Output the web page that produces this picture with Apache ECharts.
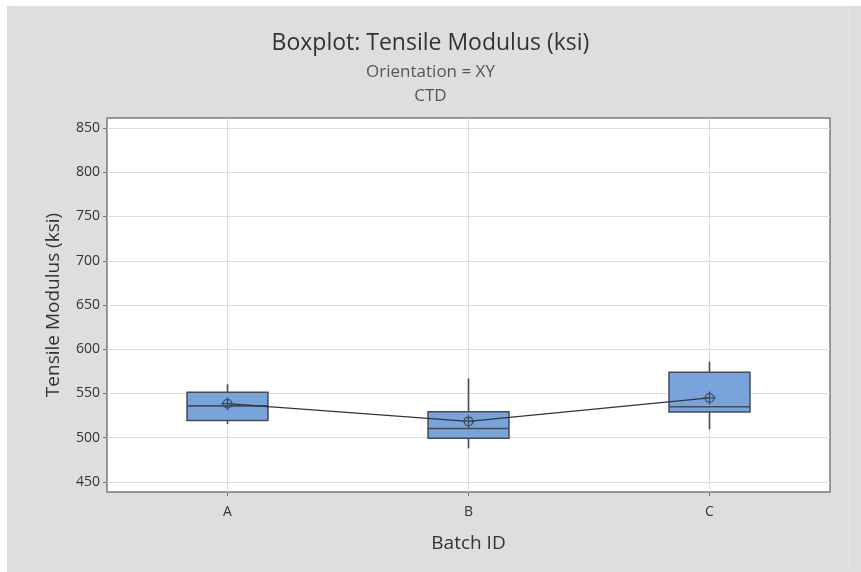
<!DOCTYPE html>
<html>
<head>
<meta charset="utf-8">
<script src="https://cdn.jsdelivr.net/npm/echarts@6/dist/echarts.min.js"></script>
<style>
  html, body { margin: 0; padding: 0; background: #ffffff; }
  #chart { width: 861px; height: 572px; }
</style>
</head>
<body>
<div id="chart"></div>
<script>
// Batch categories
const batches = ['A', 'B', 'C'];
// Five-number summaries per batch (ksi)
const whiskerLow  = [515.5, 488, 509.5];
const quartile1   = [519.5, 499.5, 529];
const medians     = [536, 510.5, 535];
const quartile3   = [551.5, 529.5, 574];
const whiskerHigh = [560.5, 567, 586];
// Batch means
const means = [538.5, 518.5, 545];
// Y axis tick values
const yTicks = [450, 500, 550, 600, 650, 700, 750, 800, 850];
// Extra room inside the frame above and below the outer ticks
const yPad = 11.3;

const FONT = '"Open Sans", "Noto Sans", sans-serif';

const boxData = batches.map((b, i) => [i, whiskerLow[i], quartile1[i], medians[i], quartile3[i], whiskerHigh[i]]);

const chart = echarts.init(document.getElementById('chart'), null, { renderer: 'canvas' });

chart.setOption({
  animation: false,
  backgroundColor: '#ffffff',
  graphic: [
    {
      type: 'rect', z: -10, silent: true,
      shape: { x: 7, y: 6, width: 861, height: 572 },
      style: { fill: '#dedede' }
    },
    {
      type: 'rect', z: -9, silent: true,
      shape: { x: 18.5, y: 6.5, width: 830, height: 563 },
      style: { fill: 'none', stroke: '#e4e4e4', lineWidth: 1 }
    }
  ],
  title: {
    left: 'center',
    top: 27,
    text: 'Boxplot: Tensile Modulus (ksi)',
    textStyle: { fontFamily: FONT, fontSize: 23, fontWeight: 'normal', color: '#333333' },
    subtext: 'Orientation = XY\nCTD',
    subtextStyle: { fontFamily: FONT, fontSize: 17, color: '#555555', lineHeight: 24, align: 'center' },
    itemGap: 5
  },
  grid: { left: 107, right: 31, top: 118, bottom: 80, show: true, borderColor: '#7a7a7a', borderWidth: 1.5, backgroundColor: '#ffffff' },
  xAxis: {
    type: 'category',
    data: batches,
    boundaryGap: true,
    name: 'Batch ID',
    nameLocation: 'middle',
    nameGap: 42,
    nameTextStyle: { fontFamily: FONT, fontSize: 19, color: '#333' },
    axisLine: { show: false },
    axisTick: { show: true, alignWithLabel: true, length: 4, lineStyle: { color: '#777' } },
    axisLabel: { fontFamily: FONT, fontSize: 14, color: '#333', margin: 13 },
    splitLine: { show: false }
  },
  yAxis: {
    type: 'value',
    min: yTicks[0] - yPad,
    max: yTicks[yTicks.length - 1] + yPad,
    name: 'Tensile Modulus (ksi)',
    nameLocation: 'middle',
    nameGap: 44,
    nameTextStyle: { fontFamily: FONT, fontSize: 19, color: '#333' },
    axisLine: { show: false },
    axisTick: { show: true, length: 4, customValues: yTicks, lineStyle: { color: '#777' } },
    axisLabel: { fontFamily: FONT, fontSize: 14, color: '#333', margin: 7, customValues: yTicks },
    splitLine: { show: true, lineStyle: { color: '#dcdcdc', width: 1 } }
  },
  series: [
    {
      // vertical reference lines at each batch
      type: 'line',
      data: [],
      silent: true,
      z: 1,
      markLine: {
        z: 1,
        silent: true,
        symbol: 'none',
        label: { show: false },
        lineStyle: { color: '#dcdcdc', width: 1, type: 'solid' },
        data: batches.map(b => ({ xAxis: b }))
      }
    },
    {
      type: 'custom',
      data: boxData,
      encode: { x: 0, y: [1, 2, 3, 4, 5] },
      renderItem: function (params, api) {
        const idx = api.value(0);
        const pLow = api.coord([idx, api.value(1)]);
        const pQ1 = api.coord([idx, api.value(2)]);
        const pMed = api.coord([idx, api.value(3)]);
        const pQ3 = api.coord([idx, api.value(4)]);
        const pHigh = api.coord([idx, api.value(5)]);
        const bw = api.size([1, 0])[0] * 0.336;
        const cx = pQ1[0];
        const stroke = { stroke: '#434b57', lineWidth: 1.6 };
        return {
          type: 'group',
          children: [
            { type: 'line', shape: { x1: cx, y1: pHigh[1], x2: cx, y2: pQ3[1] }, style: stroke },
            { type: 'line', shape: { x1: cx, y1: pQ1[1], x2: cx, y2: pLow[1] }, style: stroke },
            { type: 'rect', shape: { x: cx - bw / 2, y: pQ3[1], width: bw, height: pQ1[1] - pQ3[1] },
              style: { fill: '#78a3db', stroke: '#434b57', lineWidth: 1.5 } },
            { type: 'line', shape: { x1: cx - bw / 2, y1: pMed[1], x2: cx + bw / 2, y2: pMed[1] }, style: stroke }
          ]
        };
      },
      z: 3
    },
    {
      type: 'line',
      data: means,
      symbol: 'path://M0,-1A1,1 0 1 1 0,1A1,1 0 1 1 0,-1ZM-1.5,0L1.5,0M0,-1.5L0,1.5',
      symbolSize: 13,
      itemStyle: { color: 'rgba(0,0,0,0)', borderColor: '#434b57', borderWidth: 1.3 },
      lineStyle: { color: '#2f3540', width: 1.2 },
      z: 4
    }
  ]
});
</script>
</body>
</html>
